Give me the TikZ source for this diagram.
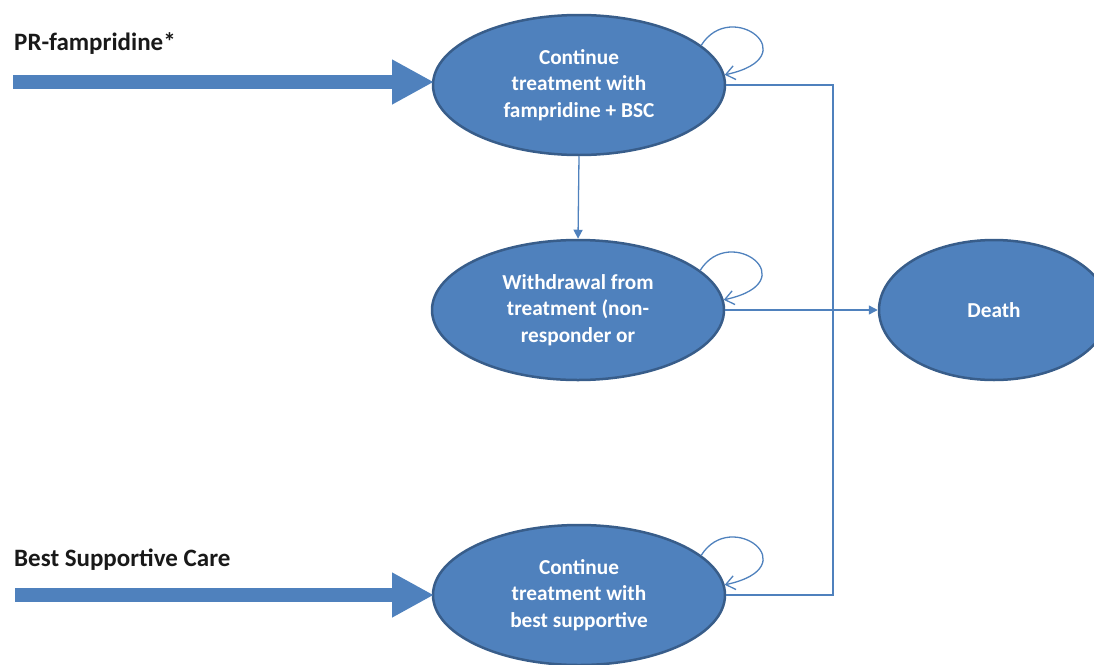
\documentclass[tikz,border=0pt]{standalone}
\usepackage{fontspec}
\setmainfont{Carlito}
\usetikzlibrary{arrows.meta,shapes.geometric}
\definecolor{ofill}{HTML}{4F81BD}
\definecolor{oline}{HTML}{385D8A}
\tikzset{
  state/.style={ellipse, draw=oline, line width=2.5pt, fill=ofill, text=white,
    minimum width=292pt, minimum height=140pt, inner sep=0pt, align=center,
    font=\fontsize{21.3}{26.5}\selectfont\bfseries},
  conn/.style={draw=ofill, line width=1.3pt},
  tip/.style={-{Triangle[length=9pt,width=9pt]}},
  loopline/.style={conn, -{Straight Barb[length=9pt,width=14pt,line width=1.3pt]}},
  big/.style={draw=ofill, line width=14pt, -{Triangle[length=42pt,width=42pt]}},
  lbl/.style={anchor=base west, inner sep=0pt, font=\fontsize{25}{30}\selectfont\bfseries, text=black!90}
}
\begin{document}
\begin{tikzpicture}[x=1pt,y=-1pt]
\useasboundingbox (0,0) rectangle (1094,664);
\node[state] (e1) at (579,85) {Continue\\treatment with\\fampridine + BSC};
\node[state] (e2) at (578,310) {Withdrawal from\\treatment (non-\\responder or};
\node[state] (e3) at (579,595) {Continue\\treatment with\\best supportive};
\node[state, minimum width=230pt] (d) at (994,310) {Death};
\node[lbl] (l1) at (14,50) {PR-fampridine*};
\node[lbl] (l2) at (14,566) {Best Supportive Care};
\coordinate (s1) at (13,82);
\coordinate (s2) at (15,595);
\coordinate (t1) at (434,82);
\coordinate (t2) at (434,595);
\draw[big] (s1) -- (t1);
\draw[big] (s2) -- (t2);
\coordinate (j) at (833,312);
\draw[conn] (e1.east) -| (j);
\draw[conn] (e3.east) -| (j);
\draw[conn,tip] (e2.east) -- (d.west);
\draw[conn,tip] (e1.south) -- (e2.north);
\foreach \e in {e1,e2,e3}{
  \draw[loopline] (\e.18) .. controls +(30,-48) and +(84,-18) .. (\e.4);
}
\end{tikzpicture}
\end{document}
